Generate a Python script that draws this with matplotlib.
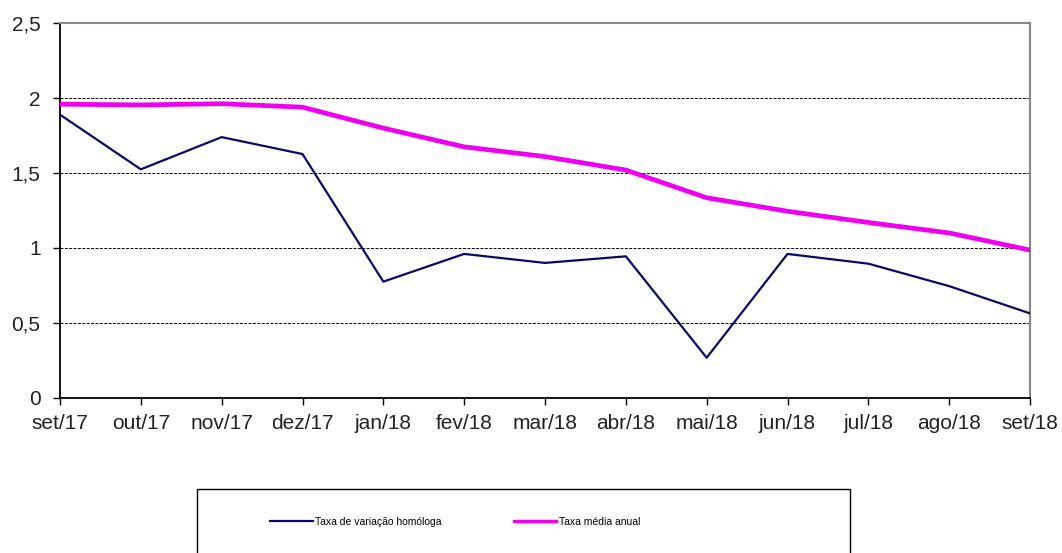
import matplotlib
matplotlib.use("Agg")
import matplotlib.pyplot as plt
from matplotlib.patches import Rectangle

months = ["set/17", "out/17", "nov/17", "dez/17", "jan/18", "fev/18", "mar/18",
          "abr/18", "mai/18", "jun/18", "jul/18", "ago/18", "set/18"]
homologa = [1.89, 1.525, 1.74, 1.627, 0.775, 0.96, 0.90, 0.944, 0.267, 0.96, 0.895, 0.745, 0.563]
media_anual = [1.96, 1.955, 1.963, 1.94, 1.80, 1.675, 1.61, 1.52, 1.335, 1.245, 1.17, 1.10, 0.986]
yticks = [0, 0.5, 1, 1.5, 2, 2.5]
ytick_labels = ["0", "0,5", "1", "1,5", "2", "2,5"]

plt.rcParams['font.family'] = ['Liberation Sans', 'DejaVu Sans']

W, H = 1062, 553
fig = plt.figure(figsize=(W / 100, H / 100), dpi=100)
ax = fig.add_axes([60 / W, 1 - 397.7 / H, (1030 - 60) / W, (397.7 - 23.3) / H])

x = list(range(len(months)))
l1, = ax.plot(x, homologa, color="#0a0a66", lw=1.6, label="Taxa de variação homóloga", zorder=3)
l2, = ax.plot(x, media_anual, color="#f000f0", lw=3.4, label="Taxa média anual", zorder=3)

ax.set_xlim(0, len(months) - 1)
ax.set_ylim(0, 2.5)
ax.set_xticks(x)
ax.set_xticklabels(months, fontsize=15)
ax.set_yticks(yticks)
ax.set_yticklabels(ytick_labels, fontsize=15)
for yv in [0.5, 1, 1.5, 2]:
    ax.axhline(yv, color="black", lw=0.7, ls=(0, (3, 1.5)), zorder=1)

ax.spines['top'].set_color('#888888')
ax.spines['right'].set_color('#888888')
ax.spines['top'].set_linewidth(1.5)
ax.spines['right'].set_linewidth(1.5)
ax.spines['left'].set_linewidth(1.3)
ax.spines['bottom'].set_linewidth(1.3)
ax.tick_params(axis='both', direction='out', length=5, width=1.0, colors='black')
ax.tick_params(axis='x', pad=7, labelcolor="#222222")
ax.tick_params(axis='y', pad=9, labelcolor="#222222")

# Legend box
rect = Rectangle((197 / W, -0.02), (850 - 197) / W, (553 - 489) / H + 0.02,
                 transform=fig.transFigure, fill=False, edgecolor='black', lw=1.0)
fig.patches.append(rect)
leg = fig.legend(handles=[l1, l2], loc='center', bbox_to_anchor=(455 / W, 1 - 522 / H),
                 ncol=2, frameon=False, fontsize=7.5, handlelength=4.1, handletextpad=0.25,
                 columnspacing=6.9)
leg.get_lines()[1].set_linewidth(2.5)

fig.savefig("out.png", dpi=100)
